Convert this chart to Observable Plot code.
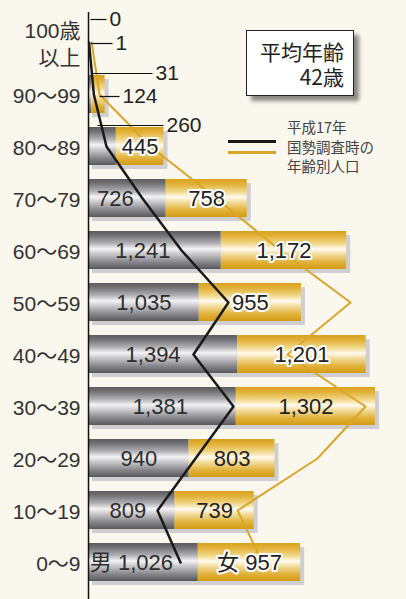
<!DOCTYPE html>
<html><head><meta charset="utf-8">
<script src="https://cdn.jsdelivr.net/npm/d3@7"></script>
<script src="https://cdn.jsdelivr.net/npm/@observablehq/plot@0.6"></script>
<style>
html,body{margin:0;padding:0;background:#faf7ee;}
#wrap{position:relative;width:406px;height:599px;overflow:hidden;font-family:"Liberation Sans","Noto Sans CJK JP",sans-serif;}
#wrap svg{position:absolute;left:0;top:0;}
.box{position:absolute;left:246px;top:30px;width:106px;height:64px;border:1.5px solid #222;background:#fff;box-shadow:5px 5px 4px rgba(0,0,0,0.45);font-family:"Noto Sans CJK JP",sans-serif;font-size:21px;color:#222;text-align:right;box-sizing:content-box;}
.box .t{position:absolute;right:9px;top:8px;line-height:25px;white-space:nowrap;}
.legend{position:absolute;left:228px;top:117px;font-family:"Noto Sans CJK JP",sans-serif;font-size:14.5px;line-height:19.5px;color:#444;}
.legend .txt{position:absolute;left:59px;top:0;white-space:nowrap;}
.legend .sw{position:absolute;left:0;width:48px;height:2.5px;}
</style></head><body>
<div id="wrap">
  <div class="box"><div class="t">平均年齢<br>42歳</div></div>
  <div class="legend">
    <div class="sw" style="top:23px;background:#1a1a1a"></div>
    <div class="sw" style="top:34px;background:#d9a62a"></div>
    <div class="txt">平成17年<br>国勢調査時の<br>年齢別人口</div>
  </div>
</div>
<script>
// ---- data ----
const ageGroups = ["100歳以上","90～99","80～89","70～79","60～69","50～59","40～49","30～39","20～29","10～19","0～9"];
const axisLabels = ["100歳\n以上","90～99","80～89","70～79","60～69","50～59","40～49","30～39","20～29","10～19","0～9"];
const male   = [0, 31, 260, 726, 1241, 1035, 1394, 1381, 940, 809, 1026];
const female = [1, 124, 445, 758, 1172, 955, 1201, 1302, 803, 739, 957];
// 平成17年 国勢調査時の年齢別人口
const male2005   = [5, 50, 168, 505, 870, 1308, 981, 1355, 1000, 645, 860];
const female2005 = [25, 53, 412, 691, 924, 1141, 879, 1234, 1140, 748, 766];
const maleTag = "男", femaleTag = "女";

// ---- layout ----
const W = 406, H = 599, left = 88;
const xMax = 2972;
const px = v => v * xMax / (W - left); // pixels -> data units
const fmt = d3.format(",");

const rows = ageGroups.map((g, i) => ({
  g, label: axisLabels[i], m: male[i], f: female[i],
  m05: male2005[i], t05: male2005[i] + female2005[i],
  last: i === ageGroups.length - 1
}));
const inBarMale = rows.slice(3);
const inBarFemale = rows.slice(2);
const haloFemale = new Set(["80～89","70～79","60～69","50～59","40～49","0～9"]);
const maleNudge = {"70～79": -12, "60～69": -12, "40～49": -10, "30～39": -2, "0～9": -12, "10～19": -4};

// callouts for the small top bars
const callouts = [
  {g: ageGroups[0], text: fmt(male[0]),   startPx: 2,  lenPx: 16, dy: -23},
  {g: ageGroups[0], text: fmt(female[0]), startPx: 2,  lenPx: 22, dy: 1},
  {g: ageGroups[1], text: fmt(male[1]),   startPx: 3,  lenPx: 61, dy: -21},
  {g: ageGroups[1], text: fmt(female[1]), startPx: 11, lenPx: 20, dy: 2},
  {g: ageGroups[2], text: fmt(male[2]),   startPx: 9,  lenPx: 66, dy: -21}
];

const chart = Plot.plot({
  width: W, height: H,
  marginLeft: left, marginRight: 0, marginTop: 12, marginBottom: 0,
  style: {background: "transparent", fontFamily: "'Liberation Sans','Noto Sans CJK JP',sans-serif"},
  x: {domain: [0, xMax], range: [left, W], axis: null},
  y: {domain: ageGroups, range: [23, 581], paddingInner: 0.27, paddingOuter: 0, axis: null},
  marks: [
    // shadows
    Plot.barX(rows, {x1: 0, x2: d => d.m + d.f, y: "g", fill: "#cfcfd1", dx: 4, dy: 4}),
    Plot.barX(rows, {x1: 0, x2: "m", y: "g", fill: "url(#grayGrad)"}),
    Plot.barX(rows, {x1: "m", x2: d => d.m + d.f, y: "g", fill: "url(#goldGrad)"}),
    // axis line
    Plot.ruleX([0], {stroke: "#111", strokeWidth: 1.5}),
    // 2005 lines
    Plot.line(rows, {x: "m05", y: "g", stroke: "#1a1a1a", strokeWidth: 2.5}),
    Plot.line(rows, {x: "t05", y: "g", stroke: "#d9a62a", strokeWidth: 2}),
    // callout leaders
    ...callouts.map(c => Plot.link([c], {x1: px(c.startPx), x2: px(c.startPx + c.lenPx), y1: "g", y2: "g", dy: c.dy, stroke: "#111", strokeWidth: 1.2})),
    Plot.ruleX([rows[0]], {x: px(2), y: "g", insetTop: -4, insetBottom: 31, stroke: "#111", strokeWidth: 1.2}),
    Plot.ruleX([rows[2]], {x: px(9), y: "g", insetTop: -2, insetBottom: 30, stroke: "#111", strokeWidth: 1.2}),
    ...callouts.map(c => Plot.text([c], {x: px(c.startPx + c.lenPx + 3), y: "g", text: "text", dy: c.dy, textAnchor: "start", fontSize: 21, fill: "#222"})),
    // y labels
    Plot.text(rows, {x: 0, y: "g", text: "label", textAnchor: "end", dx: -8, fontSize: 21, lineHeight: 1.3, fill: "#333"}),
    // in-bar labels
    Plot.text(inBarMale, {x: d => d.m / 2 + px(maleNudge[d.g] || 0), y: "g", text: d => (d.last ? maleTag + " " : "") + fmt(d.m),
      fontSize: 22, fill: "#2e2e2e"}),
    Plot.text(inBarFemale.filter(d => haloFemale.has(d.g)), {x: d => d.m + d.f / 2, y: "g", text: d => (d.last ? femaleTag + " " : "") + fmt(d.f),
      fontSize: 22, fill: "#222", stroke: "white", strokeWidth: 4, paintOrder: "stroke"}),
    Plot.text(inBarFemale.filter(d => !haloFemale.has(d.g)), {x: d => d.m + d.f / 2, y: "g", text: d => fmt(d.f),
      fontSize: 22, fill: "#222"})
  ]
});

const svg = d3.select(chart);
const defs = svg.insert("defs", ":first-child");
const gg = defs.append("linearGradient").attr("id", "grayGrad").attr("x1", 0).attr("x2", 0).attr("y1", 0).attr("y2", 1);
[[0,"#5c5c60"],[0.12,"#737377"],[0.32,"#b0b0b4"],[0.47,"#f4f4f6"],[0.58,"#d0d0d3"],[0.82,"#85858a"],[1,"#58585c"]]
  .forEach(([o,c]) => gg.append("stop").attr("offset", o).attr("stop-color", c));
const gd = defs.append("linearGradient").attr("id", "goldGrad").attr("x1", 0).attr("x2", 0).attr("y1", 0).attr("y2", 1);
[[0,"#d9a21c"],[0.14,"#e2b23a"],[0.34,"#f1d98c"],[0.48,"#fffbef"],[0.6,"#f3dea0"],[0.84,"#dfae32"],[1,"#d39c18"]]
  .forEach(([o,c]) => gd.append("stop").attr("offset", o).attr("stop-color", c));

document.getElementById("wrap").prepend(chart);
</script>
</body></html>
